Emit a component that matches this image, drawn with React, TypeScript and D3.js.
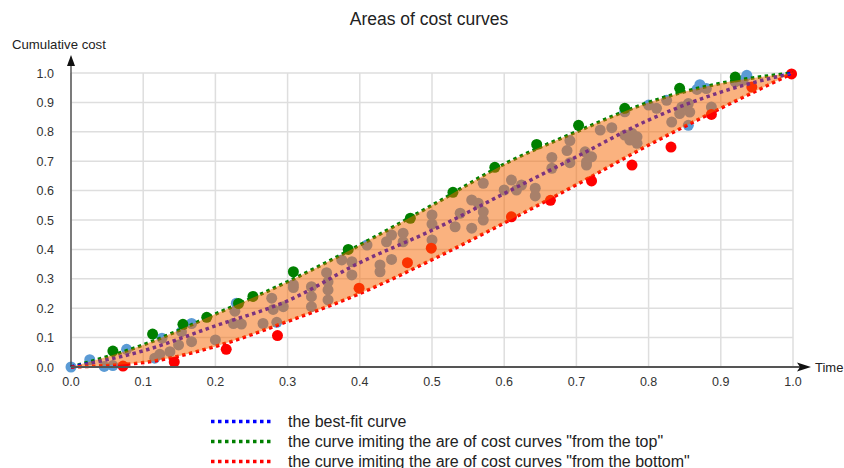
import React from "react";
import * as d3 from "d3";

const title = "Areas of cost curves";
const yAxisTitle = "Cumulative cost";
const xAxisTitle = "Time";
const tickValues = [0, 0.1, 0.2, 0.3, 0.4, 0.5, 0.6, 0.7, 0.8, 0.9, 1.0];

// curve knots
const curveX = [0, 0.1, 0.2, 0.3, 0.4, 0.5, 0.6, 0.7, 0.8, 0.9, 1.0];
const bestFit = [0, 0.055, 0.14, 0.225, 0.355, 0.465, 0.59, 0.715, 0.84, 0.935, 1.0];
const topCurve = [0, 0.075, 0.18, 0.29, 0.415, 0.55, 0.69, 0.8, 0.9, 0.965, 1.0];
const bottomCurve = [0, 0.015, 0.07, 0.155, 0.25, 0.365, 0.49, 0.62, 0.755, 0.88, 1.0];

// cost-curve points
const bluePoints: [number, number][] = [
  [0, 0], [0.026, 0.025], [0.046, 0.002], [0.058, 0.005], [0.077, 0.06], [0.116, 0.03],
  [0.123, 0.043], [0.126, 0.098], [0.137, 0.052], [0.149, 0.075], [0.153, 0.12],
  [0.167, 0.148], [0.167, 0.086], [0.2, 0.092], [0.227, 0.19], [0.229, 0.217],
  [0.225, 0.148], [0.236, 0.146], [0.278, 0.234], [0.28, 0.196], [0.266, 0.148],
  [0.285, 0.152], [0.294, 0.205], [0.308, 0.28], [0.308, 0.27], [0.333, 0.273],
  [0.333, 0.239], [0.333, 0.205], [0.354, 0.321], [0.356, 0.29], [0.356, 0.262],
  [0.356, 0.228], [0.375, 0.364], [0.389, 0.358], [0.389, 0.313], [0.41, 0.415],
  [0.428, 0.347], [0.428, 0.324], [0.437, 0.426], [0.444, 0.449], [0.444, 0.366],
  [0.46, 0.455], [0.46, 0.426], [0.5, 0.517], [0.5, 0.486], [0.5, 0.432], [0.532, 0.477],
  [0.539, 0.523], [0.555, 0.568], [0.555, 0.472], [0.564, 0.557], [0.571, 0.528],
  [0.571, 0.5], [0.571, 0.625], [0.6, 0.602], [0.61, 0.636], [0.617, 0.602],
  [0.624, 0.619], [0.643, 0.608], [0.643, 0.582], [0.666, 0.713], [0.666, 0.676],
  [0.687, 0.736], [0.691, 0.77], [0.691, 0.695], [0.712, 0.732], [0.721, 0.715],
  [0.714, 0.698], [0.714, 0.687], [0.733, 0.806], [0.749, 0.814], [0.767, 0.868],
  [0.767, 0.789], [0.777, 0.795], [0.784, 0.783], [0.774, 0.772], [0.784, 0.761],
  [0.8, 0.891], [0.811, 0.88], [0.825, 0.907], [0.832, 0.833], [0.843, 0.862],
  [0.846, 0.884], [0.855, 0.896], [0.857, 0.867], [0.855, 0.822], [0.867, 0.944],
  [0.871, 0.96], [0.88, 0.947], [0.887, 0.884], [0.931, 0.975], [0.92, 0.97], [0.936, 0.992],
];
const greenPoints: [number, number][] = [
  [0.058, 0.054], [0.113, 0.112], [0.155, 0.145], [0.188, 0.169], [0.232, 0.216],
  [0.252, 0.24], [0.308, 0.324], [0.384, 0.4], [0.47, 0.506], [0.529, 0.594],
  [0.587, 0.679], [0.645, 0.757], [0.703, 0.822], [0.767, 0.88], [0.843, 0.948], [0.92, 0.986],
];
const redPoints: [number, number][] = [
  [0.072, 0.003], [0.143, 0.017], [0.215, 0.06], [0.286, 0.107], [0.399, 0.268],
  [0.466, 0.355], [0.499, 0.404], [0.61, 0.511], [0.664, 0.567], [0.721, 0.633],
  [0.777, 0.687], [0.831, 0.748], [0.887, 0.859], [0.943, 0.952], [0.998, 0.997],
];

const legendItems = [
  { label: "the best-fit curve", color: "#0000ff" },
  { label: 'the curve imiting the are of cost curves "from the top"', color: "#008000" },
  { label: 'the curve imiting the are of cost curves "from the bottom"', color: "#ff0000" },
];

const FONT = "Arial, 'Liberation Sans', sans-serif";

export default function App() {
  const W = 844, H = 468;
  const x = d3.scaleLinear().domain([0, 1]).range([71, 793]);
  const y = d3.scaleLinear().domain([0, 1]).range([367, 73]);

  const lineGen = (vals: number[]) =>
    d3.line<number>()
      .x((_, i) => x(curveX[i]))
      .y((v) => y(v))
      .curve(d3.curveMonotoneX)(vals) || "";

  const areaPath =
    d3.area<number>()
      .x((_, i) => x(curveX[i]))
      .y0((_, i) => y(bottomCurve[i]))
      .y1((_, i) => y(topCurve[i]))
      .curve(d3.curveMonotoneX)(curveX) || "";

  const dash = "3.5,3.5";
  const r = 5.5;

  return (
    <svg width={W} height={H} style={{ position: "absolute", left: 0, top: 0, background: "#fff" }}>
      <rect width={W} height={H} fill="#fff" />
      <text x={429} y={25} textAnchor="middle" fontFamily={FONT} fontSize={17.5} fill="#222">{title}</text>

      {/* grid */}
      {tickValues.map((t) => (
        <line key={"gx" + t} x1={x(t)} x2={x(t)} y1={y(0)} y2={y(1)} stroke="#dedede" strokeWidth={1.5} />
      ))}
      {tickValues.map((t) => (
        <line key={"gy" + t} x1={x(0)} x2={x(1)} y1={y(t)} y2={y(t)} stroke="#dedede" strokeWidth={1.5} />
      ))}

      {/* tick labels */}
      {tickValues.map((t) => (
        <text key={"ty" + t} x={54} y={y(t) + 4.5} textAnchor="end" fontFamily={FONT} fontSize={12.5} fill="#333">
          {t.toFixed(1)}
        </text>
      ))}
      {tickValues.map((t) => (
        <text key={"tx" + t} x={x(t)} y={386} textAnchor="middle" fontFamily={FONT} fontSize={12.5} fill="#333">
          {t.toFixed(1)}
        </text>
      ))}

      {/* points */}
      {bluePoints.map((p, i) => (
        <circle key={"b" + i} cx={x(p[0])} cy={y(p[1])} r={r} fill="#5b9bd5" />
      ))}
      {greenPoints.map((p, i) => (
        <circle key={"g" + i} cx={x(p[0])} cy={y(p[1])} r={r} fill="#008000" />
      ))}
      {redPoints.map((p, i) => (
        <circle key={"r" + i} cx={x(p[0])} cy={y(p[1])} r={r} fill="#ff0000" />
      ))}

      {/* curves */}
      <path d={lineGen(topCurve)} fill="none" stroke="#008000" strokeWidth={3.5} strokeDasharray={dash} />
      <path d={lineGen(bestFit)} fill="none" stroke="#0000ff" strokeWidth={3.5} strokeDasharray={dash} />
      <path d={lineGen(bottomCurve)} fill="none" stroke="#ff0000" strokeWidth={3.5} strokeDasharray={dash} />

      {/* area */}
      <path d={areaPath} fill="#f56500" fillOpacity={0.5} stroke="none" />

      {/* axes */}
      <line x1={x(0)} x2={x(0)} y1={y(0)} y2={62} stroke="#333" strokeWidth={1.2} />
      <polygon points={`${x(0)},55 ${x(0) - 4},66 ${x(0) + 4},66`} fill="#111" />
      <line x1={x(0)} x2={800} y1={y(0)} y2={y(0)} stroke="#555" strokeWidth={2} />
      <polygon points={`811,${y(0)} 797,${y(0) - 4.5} 800,${y(0)} 797,${y(0) + 4.5}`} fill="#111" />
      <text x={12} y={49} fontFamily={FONT} fontSize={13.2} fill="#222">{yAxisTitle}</text>
      <text x={815} y={372} fontFamily={FONT} fontSize={13} fill="#222">{xAxisTitle}</text>

      {/* legend */}
      {legendItems.map((it, i) => (
        <g key={"l" + i}>
          <line x1={211} x2={272} y1={421.5 + i * 20} y2={421.5 + i * 20} stroke={it.color} strokeWidth={3.5} strokeDasharray={dash} />
          <text x={288} y={427 + i * 20} fontFamily={FONT} fontSize={16} fill="#222">{it.label}</text>
        </g>
      ))}
    </svg>
  );
}
